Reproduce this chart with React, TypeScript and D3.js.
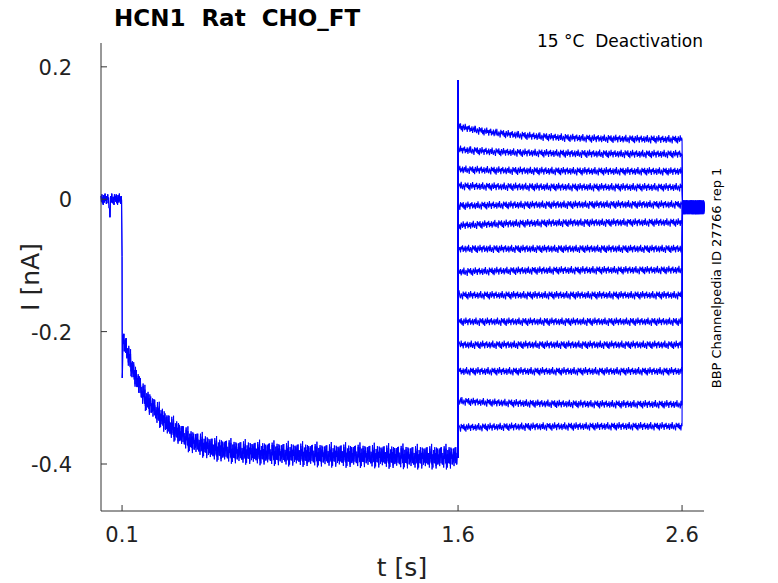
import React from "react";
import * as d3 from "d3";

const xTicks = [0.1, 1.6, 2.6];
const yTicks = [0.2, 0, -0.2, -0.4];
const yTickLabels = ["0.2", "0", "-0.2", "-0.4"];
// holding phase key points [t, I]
const holdT = [0.006, 0.04, 0.045, 0.05, 0.098, 0.1, 0.101, 0.104, 0.15, 0.2, 0.3, 0.4, 0.5, 0.6, 0.8, 1.0, 1.2, 1.4, 1.599];
const holdI = [0.0, 0.0, -0.025, 0.0, 0.0, -0.1, -0.27, -0.21, -0.26, -0.3, -0.34, -0.365, -0.377, -0.382, -0.385, -0.387, -0.388, -0.39, -0.39];
// step sweeps: start and end current
const stepStart = [0.11, 0.075, 0.045, 0.02, -0.01, -0.04, -0.075, -0.11, -0.145, -0.185, -0.22, -0.26, -0.305, -0.345];
const stepEnd = [0.09, 0.068, 0.042, 0.018, -0.008, -0.035, -0.075, -0.107, -0.145, -0.185, -0.22, -0.26, -0.31, -0.343];
// noise pattern (nA)
const noise = [0.004, -0.003, 0.006, -0.005, 0.002, -0.007, 0.005, 0.001, -0.004, 0.007, -0.002, 0.003, -0.006, 0.004, -0.001, 0.006, -0.005, 0.002, -0.003, 0.005, -0.006, 0.001, 0.004, -0.004, 0.007, -0.002, -0.005, 0.003, 0.0, -0.007, 0.006, -0.001];

const W = 778, H = 583;
const x = d3.scaleLinear().domain([0.006, 2.698]).range([101, 704]);
const y = d3.scaleLinear().domain([-0.471, 0.236]).range([511, 43]);

function holdSeries(): [number, number][] {
  const interp = d3.scaleLinear().domain(holdT).range(holdI);
  const pts: [number, number][] = [];
  let k = 0;
  for (let t = 0.006; t < 1.6; t += 0.002) {
    const amp = t > 0.1 && t < 1.6 ? 2.2 : 1.2;
    pts.push([t, interp(t) + noise[k++ % noise.length] * amp]);
    if (Math.abs(t - 0.1) < 0.001) pts.push([0.101, -0.27]);
  }
  return pts;
}

function stepSeries(i: number): [number, number][] {
  const pts: [number, number][] = [[1.6, -0.39], [1.6, 0.18], [1.601, stepStart[i] + 0.005]];
  let k = i * 7;
  for (let t = 1.605; t < 2.6; t += 0.003) {
    const f = (t - 1.6) / 1.0;
    const base = stepStart[i] + (stepEnd[i] - stepStart[i]) * (1 - Math.exp(-f * 4));
    pts.push([t, base + noise[k++ % noise.length] * 0.9]);
  }
  pts.push([2.6, stepEnd[i]]);
  let m = i * 3;
  for (let t = 2.602; t < 2.698; t += 0.002) {
    pts.push([t, -0.012 + noise[m++ % noise.length] * 1.5]);
  }
  return pts;
}

export default function App() {
  const line = d3.line<[number, number]>().x(d => x(d[0])).y(d => y(d[1]));
  const hold = holdSeries();
  const holdShift = hold.map(([t, v], i) => [t, v + (t > 0.12 ? noise[(i * 5) % noise.length] * 1.2 : 0)] as [number, number]);
  return (
    <svg width={W} height={H} style={{ display: "block", position: "absolute", left: 0, top: 0 }} fontFamily="DejaVu Sans, sans-serif">
      <rect width={W} height={H} fill="white" />
      <path d={line(hold) || ""} fill="none" stroke="#0000ff" strokeWidth={1} />
      <path d={line(holdShift) || ""} fill="none" stroke="#0000ff" strokeWidth={1} />
      {stepStart.map((_, i) => (
        <path key={i} d={line(stepSeries(i)) || ""} fill="none" stroke="#0000ff" strokeWidth={1.1} />
      ))}
      <line x1={101} x2={101} y1={43} y2={511} stroke="#333" />
      <line x1={101} x2={704} y1={511} y2={511} stroke="#333" />
      {xTicks.map(t => (
        <g key={t}>
          <line x1={x(t)} x2={x(t)} y1={511} y2={505} stroke="#333" />
          <text x={x(t)} y={542} fontSize={21} textAnchor="middle" fill="#222">{t}</text>
        </g>
      ))}
      {yTicks.map((t, i) => (
        <g key={t}>
          <line x1={101} x2={107} y1={y(t)} y2={y(t)} stroke="#333" />
          <text x={72} y={y(t) + 8} fontSize={21} textAnchor="end" fill="#222">{yTickLabels[i]}</text>
        </g>
      ))}
      <text x={402} y={576} fontSize={25} textAnchor="middle" fill="#222">t [s]</text>
      <text transform="translate(39,277) rotate(-90)" fontSize={25} textAnchor="middle" fill="#222">I [nA]</text>
      <text x={114} y={26} fontSize={23} fontWeight="bold" fill="#000" style={{ whiteSpace: "pre" }}>HCN1  Rat  CHO_FT</text>
      <text x={703} y={47} fontSize={17} textAnchor="end" fill="#000" style={{ whiteSpace: "pre" }}>15 °C  Deactivation</text>
      <text transform="translate(721,278) rotate(-90)" fontSize={13} textAnchor="middle" fill="#000">BBP Channelpedia ID 27766 rep 1</text>
    </svg>
  );
}
